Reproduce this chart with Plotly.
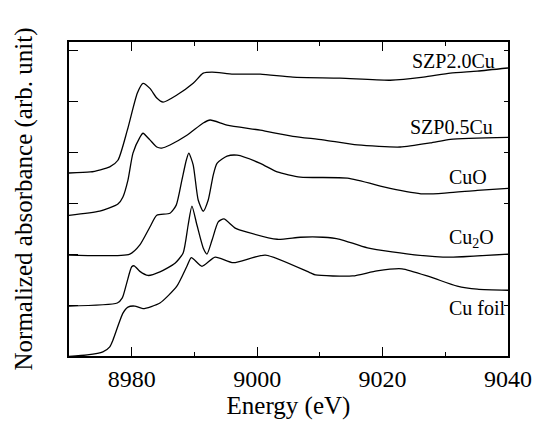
import plotly.graph_objects as go

# ---- data (energy in eV, offset normalized absorbance) ----
cufoil_E = [8970.0, 8972.9, 8975.4, 8976.5, 8977.0, 8978.6, 8979.4, 8980.5, 8981.8, 8984.5,
            8987.2, 8988.8, 8989.5, 8991.2, 8993.3, 8996.2, 9001.3, 9008.5, 9009.3, 9015.2,
            9019.1, 9023.1, 9027.6, 9031.9, 9035.1, 9040.0]
cufoil_y = [-0.01, 0.02, 0.08, 0.18, 0.31, 0.84, 0.96, 0.98, 0.93, 1.04,
            1.37, 1.76, 1.93, 1.76, 1.94, 1.83, 1.98, 1.63, 1.59, 1.57,
            1.67, 1.71, 1.55, 1.37, 1.31, 1.29]

cu2o_E = [8970.0, 8977.7, 8978.5, 8979.2, 8980.0, 8980.4, 8981.3, 8982.6, 8984.5, 8986.9,
          8988.2, 8989.0, 8989.6, 8990.4, 8991.4, 8992.0, 8992.8, 8993.8, 8994.7, 8996.5,
          8998.4, 9003.2, 9006.9, 9010.5, 9013.2, 9017.6, 9025.5, 9030.8, 9040.0]
cu2o_y = [0.98, 1.04, 1.14, 1.43, 1.75, 1.77, 1.66, 1.58, 1.65, 1.82,
          2.02, 2.57, 2.94, 2.57, 2.12, 2.00, 2.27, 2.63, 2.69, 2.51,
          2.43, 2.29, 2.33, 2.33, 2.29, 2.12, 1.98, 1.94, 2.00]

cuo_E = [8970.0, 8979.7, 8981.3, 8982.9, 8984.0, 8986.1, 8987.1, 8988.0, 8988.7, 8989.1,
         8989.8, 8990.6, 8991.4, 8992.2, 8993.0, 8993.6, 8995.2, 8996.8, 9000.5, 9003.2,
         9006.9, 9014.4, 9021.2, 9026.5, 9030.3, 9035.1, 9040.0]
cuo_y = [1.98, 2.00, 2.18, 2.53, 2.76, 2.80, 2.96, 3.45, 3.84, 3.98,
         3.75, 3.06, 2.84, 3.06, 3.55, 3.78, 3.92, 3.94, 3.78, 3.61,
         3.51, 3.49, 3.29, 3.18, 3.20, 3.25, 3.29]

szp05_E = [8970.0, 8974.9, 8977.8, 8978.6, 8979.4, 8980.2, 8981.3, 8981.8, 8982.9, 8984.0,
           8984.8, 8986.1, 8988.8, 8991.4, 8992.5, 8995.2, 9000.5, 9005.7, 9010.5, 9016.0,
           9022.8, 9027.6, 9030.8, 9040.0]
szp05_y = [2.76, 2.84, 2.98, 3.12, 3.45, 3.98, 4.29, 4.37, 4.24, 4.10,
           4.08, 4.14, 4.33, 4.57, 4.63, 4.53, 4.43, 4.31, 4.24, 4.14,
           4.10, 4.18, 4.25, 4.29]

szp20_E = [8970.0, 8973.4, 8976.5, 8977.8, 8979.3, 8980.9, 8981.8, 8982.9, 8984.0, 8985.0,
           8987.2, 8989.8, 8991.4, 8992.8, 8996.2, 9000.5, 9005.7, 9013.2, 9021.2, 9026.5,
           9030.8, 9035.1, 9040.0]
szp20_y = [3.59, 3.61, 3.71, 3.84, 4.43, 5.16, 5.35, 5.25, 5.06, 4.98,
           5.12, 5.35, 5.55, 5.57, 5.53, 5.53, 5.47, 5.45, 5.41, 5.47,
           5.55, 5.59, 5.65]

labels = ["SZP2.0Cu", "SZP0.5Cu", "CuO", "Cu<sub>2</sub>O", "Cu foil"]
label_E = [9038.3, 9038.0, 9030.2, 9030.2, 9030.2]
label_y = [5.78, 4.49, 3.51, 2.31, 0.94]
label_anchor = ["right", "right", "left", "left", "left"]

x_ticks = [8980, 9000, 9020, 9040]
y_ticks = [0, 1, 2, 3, 4, 5, 6]

FONT = "Liberation Serif"

fig = go.Figure()
for E, y in [(cufoil_E, cufoil_y), (cu2o_E, cu2o_y), (cuo_E, cuo_y),
             (szp05_E, szp05_y), (szp20_E, szp20_y)]:
    fig.add_trace(go.Scatter(x=E, y=y, mode="lines",
                             line=dict(color="black", width=1.3, shape="spline", smoothing=0.6),
                             showlegend=False, hoverinfo="skip"))
# invisible trace to carry the right-hand axis (short inward ticks)
fig.add_trace(go.Scatter(x=[8970], y=[0], yaxis="y2", mode="markers",
                         marker=dict(opacity=0), showlegend=False, hoverinfo="skip"))

for t, e, yv, a in zip(labels, label_E, label_y, label_anchor):
    fig.add_annotation(x=e, y=yv, text=t, showarrow=False, xanchor=a, yanchor="middle",
                       font=dict(family=FONT, size=20, color="black"))

# figure is drawn 8 px in from the page's top-left corner (default body margin)
fig.update_layout(
    width=535, height=413,
    margin=dict(l=61, r=35, t=34, b=65, autoexpand=False),
    paper_bgcolor="white", plot_bgcolor="white",
    font=dict(family=FONT, color="black"),
    xaxis=dict(range=[8970, 9040], tickvals=x_ticks, ticks="inside", ticklen=9,
               tickwidth=1.3, tickcolor="black", showline=True, linecolor="black",
               linewidth=1.5, mirror="ticks", showgrid=False, zeroline=False,
               automargin=False, tickfont=dict(family=FONT, size=24),
               minor=dict(dtick=10, tick0=8970, ticks="inside", ticklen=4,
                          tickwidth=1.3, tickcolor="black", showgrid=False),
               title=dict(text="Energy (eV)", font=dict(family=FONT, size=25),
                          standoff=4)),
    yaxis=dict(range=[0, 6.16], tickvals=y_ticks, ticks="inside", ticklen=9,
               tickwidth=1.3, tickcolor="black", showline=True, linecolor="black",
               linewidth=1.5, mirror=True, showgrid=False, zeroline=False,
               showticklabels=False, automargin=False,
               title=dict(text="Normalized absorbance (arb. unit)",
                          font=dict(family=FONT, size=25), standoff=28)),
    yaxis2=dict(range=[0, 6.16], overlaying="y", side="right", tickvals=y_ticks,
                ticks="inside", ticklen=4, tickwidth=1.3, tickcolor="black",
                showticklabels=False, showgrid=False, zeroline=False, showline=False,
                automargin=False),
)

fig.write_html("out.html")
